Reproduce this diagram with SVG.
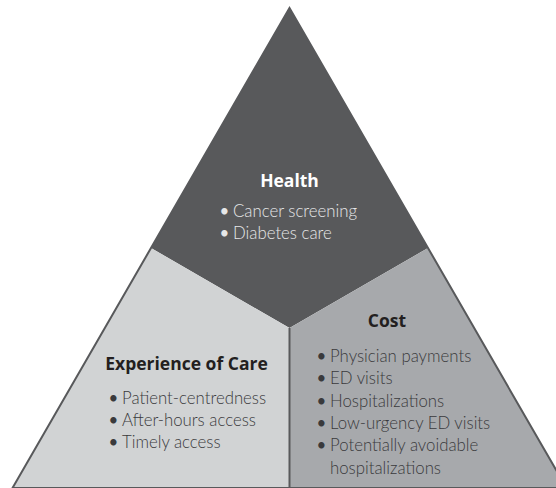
<svg xmlns="http://www.w3.org/2000/svg" width="556" height="488" viewBox="0 0 556 488">
<style>
.title{font-family:"Open Sans","Liberation Sans",sans-serif;font-weight:700;font-size:17.5px;text-anchor:middle}
.body{font-family:Lato,"Liberation Sans",sans-serif;font-weight:300;font-size:16.8px}
.b{font-weight:400}
.dark{fill:#231f20}
.bodydark{fill:#3a3a3c}
.light{fill:#ffffff}
.bodylight{fill:#e6e7e8}
.edge{fill:none;stroke:#58595b;stroke-width:2;stroke-linejoin:miter}
</style>
<rect width="556" height="488" fill="#ffffff"/>
<g id="health">
<polygon points="289.5,8 428,248 289.5,328 151,248" fill="#58595b"/>
<text class="title light" x="289.5" y="187">Health</text>
<text class="body bodylight"><tspan class="b" x="219.5" y="217">•</tspan><tspan x="233" y="217">Cancer screening</tspan></text>
<text class="body bodylight"><tspan class="b" x="219.5" y="238.5">•</tspan><tspan x="233" y="238.5">Diabetes care</tspan></text>
</g>
<g id="experience">
<polygon points="151,248 289.5,328 289.5,488 12.5,488" fill="#d1d3d4"/>
<text class="title dark" x="186.5" y="370">Experience of Care</text>
<text class="body bodydark"><tspan class="b" x="108.5" y="403.5">•</tspan><tspan x="122" y="403.5">Patient-centredness</tspan></text>
<text class="body bodydark"><tspan class="b" x="108.5" y="425.5">•</tspan><tspan x="122" y="425.5">After-hours access</tspan></text>
<text class="body bodydark"><tspan class="b" x="108.5" y="447.5">•</tspan><tspan x="122" y="447.5">Timely access</tspan></text>
</g>
<g id="cost">
<polygon points="289.5,328 428,248 566.5,488 289.5,488" fill="#a7a9ac"/>
<text class="title dark" x="387" y="327">Cost</text>
<text class="body bodydark"><tspan class="b" x="316.5" y="362">•</tspan><tspan x="330" y="362">Physician payments</tspan></text>
<text class="body bodydark"><tspan class="b" x="316.5" y="384">•</tspan><tspan x="330" y="384">ED visits</tspan></text>
<text class="body bodydark"><tspan class="b" x="316.5" y="406.5">•</tspan><tspan x="330" y="406.5">Hospitalizations</tspan></text>
<text class="body bodydark"><tspan class="b" x="316.5" y="428.5">•</tspan><tspan x="330" y="428.5">Low-urgency ED visits</tspan></text>
<text class="body bodydark"><tspan class="b" x="316.5" y="451">•</tspan><tspan x="330" y="451">Potentially avoidable</tspan></text>
<text class="body bodydark"><tspan x="330" y="473.5">hospitalizations</tspan></text>
</g>
<g id="connectors">
<polygon class="edge" points="289.5,8 566.5,488 12.5,488"/>
<line class="edge" x1="289.5" y1="328" x2="289.5" y2="488"/>
</g>
</svg>
